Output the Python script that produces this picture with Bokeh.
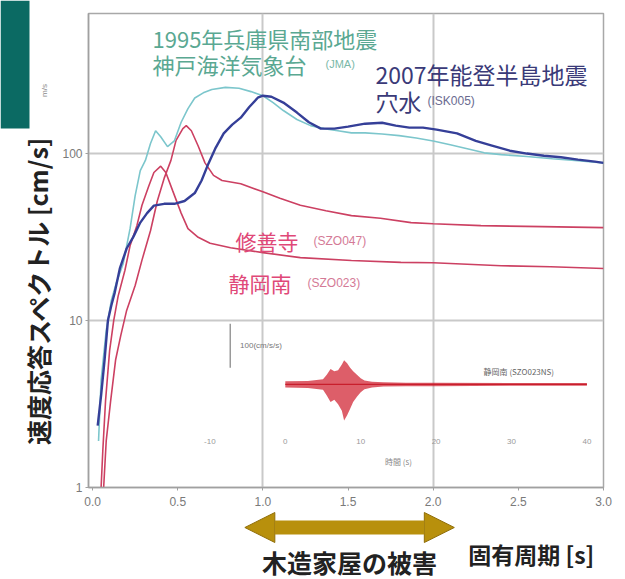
from bokeh.plotting import figure
from bokeh.layouts import row, column
from bokeh.models import (Range1d, LinearScale, FixedTicker, PrintfTickFormatter,
                          Label, Arrow, NormalHead)
from bokeh.embed import file_html
from bokeh.resources import INLINE
from bokeh.core.properties import value

JP = "Noto Sans CJK JP"

# ---- velocity response spectra: natural period [s] / velocity [cm/s] ----
kobe_T = [0.035, 0.05, 0.08, 0.11, 0.14, 0.18, 0.22, 0.25, 0.28, 0.31, 0.34, 0.37,
          0.40, 0.44, 0.48, 0.52, 0.56, 0.60, 0.65, 0.70, 0.78, 0.86, 0.93, 1.00,
          1.06, 1.12, 1.20, 1.28, 1.36, 1.44, 1.52, 1.60, 1.70, 1.80, 1.90, 2.00,
          2.10, 2.20, 2.30, 2.40, 2.55, 2.70, 2.85, 3.00]
kobe_V = [1.9, 4.4, 8.7, 13.2, 16.9, 22, 35.5, 56, 79, 91, 115, 137,
          126, 110, 119, 154, 186, 215, 231, 242, 249, 246, 235, 222,
          202, 181, 160, 147, 141, 137, 133, 133, 131, 128, 124, 119,
          113, 107, 101, 98.5, 96, 93, 90.5, 88]

anamizu_T = [0.03, 0.05, 0.07, 0.09, 0.11, 0.13, 0.16, 0.20, 0.24, 0.28, 0.32, 0.36,
             0.42, 0.48, 0.54, 0.60, 0.64, 0.68, 0.72, 0.77, 0.82, 0.87, 0.92, 0.97,
             1.00, 1.05, 1.12, 1.20, 1.27, 1.34, 1.42, 1.50, 1.60, 1.70, 1.78, 1.86,
             1.94, 2.02, 2.14, 2.25, 2.34, 2.45, 2.55, 2.65, 2.75, 2.85, 2.95, 3.00]
anamizu_V = [2.35, 3.56, 5.76, 10, 12.3, 14.7, 20.5, 27, 31.8, 38.6, 44, 48.8,
             50, 50, 52, 58, 69, 87, 107, 132, 149, 164, 190, 216,
             222, 219, 202, 176, 154, 141, 141, 145, 151, 153, 147, 143,
             143, 139, 132, 119, 112, 104, 100, 97, 95, 92, 89.5, 88]

shuzenji_T = [0.065, 0.08, 0.106, 0.135, 0.165, 0.20, 0.25, 0.29, 0.34, 0.38, 0.42,
              0.46, 0.49, 0.53, 0.55, 0.58, 0.62, 0.66, 0.71, 0.76, 0.87, 1.00, 1.10,
              1.22, 1.37, 1.52, 1.69, 1.87, 2.00, 2.28, 2.64, 3.00]
shuzenji_V = [1.0, 1.9, 3.3, 5.8, 8.1, 11.5, 16.2, 23, 34.5, 52, 71,
              91, 120, 141, 147, 137, 111, 88, 74, 69, 66, 59, 54,
              49, 45.5, 42.5, 41, 38.6, 38, 37, 36.5, 36]

shizuoka_T = [0.05, 0.06, 0.076, 0.10, 0.124, 0.15, 0.19, 0.22, 0.26, 0.29, 0.33,
              0.36, 0.40, 0.43, 0.47, 0.52, 0.56, 0.62, 0.69, 0.81, 1.00, 1.22,
              1.52, 1.81, 2.00, 2.40, 2.69, 3.00]
shizuoka_V = [1.0, 1.66, 3.3, 6.6, 10, 14, 20, 28, 37, 49, 64,
              77, 84, 77, 60, 44, 35.5, 31.5, 29, 27.3, 25.5, 23.8,
              22.9, 22.3, 22.2, 21.3, 21, 20.5]

# ---- inset: acceleration record envelope, time [s] / [cm/s/s] ----
wave_t = [0, 3, 5, 5.5, 6, 6.5, 7, 7.5, 7.8, 8.2, 8.6, 9.0, 9.5, 10, 10.5,
          11.5, 13, 16, 20, 30, 40]
wave_up = [7, 8, 12, 22, 35, 30, 32, 45, 55, 48, 38, 30, 22, 14, 9,
           6, 5, 4, 4, 3, 3]
wave_lo = [-7, -8, -12, -25, -40, -35, -45, -60, -82, -70, -55, -40, -28, -18, -11,
           -7, -5, -4, -4, -3, -3]
wave_ticks = [-10, 0, 10, 20, 30, 40]
scale_bar_t = -7.3
scale_bar_acc = [38, 138]

period_ticks = [0.0, 0.5, 1.0, 1.5, 2.0, 2.5, 3.0]
velocity_ticks = [1, 10, 100]
damage_band = [0.894, 2.124]   # wooden-house damage period band, arrow tips [s]


def bare(fig):
    fig.xaxis.visible = False
    fig.yaxis.visible = False
    fig.grid.visible = False
    fig.outline_line_color = None


# ---------------- main spectrum chart ----------------
p = figure(width=570, height=510, x_range=Range1d(-0.024, 3.0),
           y_range=Range1d(1, 690), y_axis_type="log",
           output_backend="svg", toolbar_location=None,
           min_border_left=33, min_border_right=22, min_border_top=13,
           min_border_bottom=23, background_fill_color="white",
           border_fill_color="white")
p.outline_line_color = "#a8a8a8"
p.outline_line_width = 1.5

p.extra_x_ranges = {"t": Range1d(-26.1, 42.2)}
p.extra_y_ranges = {"acc": Range1d(-234, 842)}
p.extra_x_scales = {"t": LinearScale()}
p.extra_y_scales = {"acc": LinearScale()}

p.xgrid.ticker = FixedTicker(ticks=[1.0, 2.0])
p.ygrid.ticker = FixedTicker(ticks=[10, 100])
for g in (p.xgrid, p.ygrid):
    g.grid_line_color = "#c9c9c9"
    g.grid_line_width = 2

p.xaxis.ticker = FixedTicker(ticks=period_ticks)
p.xaxis.formatter = PrintfTickFormatter(format="%.1f")
p.yaxis.ticker = FixedTicker(ticks=velocity_ticks)
p.yaxis.formatter = PrintfTickFormatter(format="%d")
for ax in (p.xaxis, p.yaxis):
    ax.axis_line_color = "#a0a0a0"
    ax.axis_line_width = 1.5
    ax.major_tick_line_color = "#a0a0a0"
    ax.major_tick_in = 0
    ax.major_tick_out = 3
    ax.minor_tick_line_color = None
    ax.major_label_text_color = "#7a7a7a"
    ax.major_label_text_font = "Liberation Sans"
    ax.major_label_text_font_size = "12px"
p.xaxis.major_label_standoff = 6
p.yaxis.major_label_standoff = 3

# inset acceleration record
p.varea(x=wave_t, y1=wave_lo, y2=wave_up, fill_color="#d0202f", fill_alpha=0.72,
        x_range_name="t", y_range_name="acc")
p.line(x=[wave_t[0], wave_t[-1]], y=[0, 0], line_color="#c81e2c", line_width=1.2,
       x_range_name="t", y_range_name="acc")
p.segment(x0=[scale_bar_t], y0=[scale_bar_acc[0]], x1=[scale_bar_t], y1=[scale_bar_acc[1]],
          line_color="#9a9a9a", line_width=1.5, x_range_name="t", y_range_name="acc")
p.text(x=[scale_bar_t + 1.3], y=[88], text=["100(cm/s/s)"], text_font=value("Liberation Sans"),
       text_font_size="8px", text_color="#777777", text_baseline="middle",
       x_range_name="t", y_range_name="acc")
p.text(x=[26.3], y=[16], text=["静岡南 (SZO023NS)"], text_font=value(JP),
       text_font_size="8px", text_color="#666666", text_baseline="bottom",
       x_range_name="t", y_range_name="acc")
p.text(x=wave_ticks, y=[-130] * len(wave_ticks), text=[str(v) for v in wave_ticks],
       text_font=value("Liberation Sans"), text_font_size="8px", text_color="#9a9a9a",
       text_align="center", text_baseline="middle", x_range_name="t", y_range_name="acc")
p.text(x=[15], y=[-176], text=["時間 (s)"], text_font=value(JP), text_font_size="8px",
       text_color="#888888", text_align="center", text_baseline="middle",
       x_range_name="t", y_range_name="acc")

# spectra
p.line(shizuoka_T, shizuoka_V, line_color="#cc4062", line_width=1.6)
p.line(shuzenji_T, shuzenji_V, line_color="#cc4062", line_width=1.6)
p.line(kobe_T, kobe_V, line_color="#7cc6cc", line_width=1.6)
p.line(anamizu_T, anamizu_V, line_color="#353f98", line_width=2.4)


def lab(text, sx, sy, size, color, font=JP):
    # sx, sy: pixels from the frame's lower-left corner
    p.add_layout(Label(x=sx, y=sy, x_units="screen", y_units="screen", text=text,
                       text_font=font, text_font_size=f"{size}px", text_color=color,
                       text_baseline="middle"))


lab("1995年兵庫県南部地震", 64, 450, 22, "#5aa892")
lab("神戸海洋気象台", 64, 424, 22, "#5aa892")
lab("(JMA)", 237, 424, 11, "#7ab8a8", font="Liberation Sans")
lab("2007年能登半島地震", 287, 414, 23, "#3a3a78")
lab("穴水", 287, 387, 23, "#3a3a78")
lab("(ISK005)", 339, 387, 12, "#6a6a90", font="Liberation Sans")
lab("修善寺", 147, 247, 21, "#e04878")
lab("(SZO047)", 225, 247, 12, "#d47a96", font="Liberation Sans")
lab("静岡南", 140, 205, 21, "#e04878")
lab("(SZO023)", 219, 205, 12, "#d47a96", font="Liberation Sans")

# ---------------- left strip: corner block and vertical title ----------------
side = figure(width=55, height=579, x_range=Range1d(0, 55), y_range=Range1d(0, 579),
              output_backend="svg", toolbar_location=None, min_border=0,
              background_fill_color="white", border_fill_color="white")
bare(side)
side.quad(left=[0], right=[29], bottom=[451], top=[579], fill_color="#0b6a63",
          line_color=None)
side.text(x=[37], y=[289], text=["速度応答スペクトル [cm/s]"], angle=1.5708,
          text_font=value(JP), text_font_style="bold", text_font_size="25px",
          text_color="#222222", text_align="center", text_baseline="middle")
side.text(x=[44], y=[489], text=["m/s"], angle=1.5708, text_font=value("Liberation Sans"),
          text_font_size="8px", text_color="#8a8a8a", text_align="center",
          text_baseline="middle")

# ---------------- bottom strip: damage band arrow and axis title ----------------
bottom = figure(width=570, height=69, x_range=p.x_range, y_range=Range1d(0, 69),
                output_backend="svg", toolbar_location=None, min_border_left=33,
                min_border_right=22, min_border_top=0, min_border_bottom=0,
                background_fill_color="white", border_fill_color="white")
bare(bottom)
bottom.add_layout(Arrow(x_start=damage_band[0], x_end=damage_band[1], y_start=52, y_end=52,
                        line_color="#b8900c", line_width=14,
                        start=NormalHead(size=30, fill_color="#b8900c", line_color="#8f6d08"),
                        end=NormalHead(size=30, fill_color="#b8900c", line_color="#8f6d08")))
bottom.text(x=[sum(damage_band) / 2], y=[18], text=["木造家屋の被害"], text_font=value(JP),
            text_font_style="bold", text_font_size="25px", text_color="#222222",
            text_align="center", text_baseline="middle")
bottom.text(x=[2.206], y=[26], text=["固有周期 [s]"], text_font=value(JP),
            text_font_style="bold", text_font_size="23px", text_color="#222222",
            text_align="left", text_baseline="middle")

layout = row(side, column(p, bottom, spacing=0), spacing=0)
open("out.html", "w").write(file_html(layout, INLINE))
